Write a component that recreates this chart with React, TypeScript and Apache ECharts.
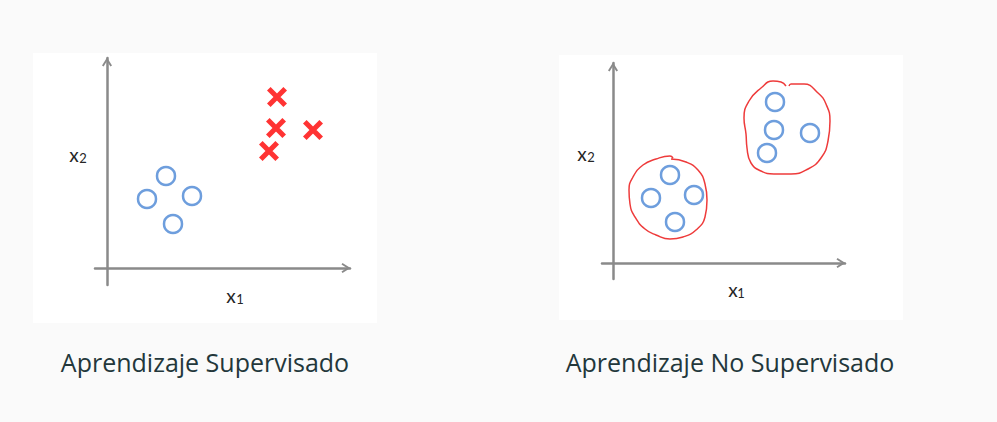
import React, { useEffect, useRef } from "react";
import * as echarts from "echarts";

// ---- Data (panel units: origin at axis crossing) ----
const supervisedCircles = [
  [5.9, 9.2],
  [4.0, 6.9],
  [8.5, 7.2],
  [6.6, 4.4],
];
const supervisedCrosses = [
  [17.0, 17.1],
  [16.9, 14.0],
  [20.6, 13.8],
  [16.2, 11.7],
];
const unsupLowerCircles = [
  [5.7, 8.8],
  [3.8, 6.5],
  [8.1, 6.8],
  [6.2, 4.1],
];
const unsupUpperCircles = [
  [16.2, 16.1],
  [16.1, 13.3],
  [19.7, 13.0],
  [15.4, 11.0],
];
const lowerLoop = [
  [5.8, 10.4], [7.3, 10.1], [8.5, 9.3], [9.2, 7.9], [9.4, 6.3], [9.2, 4.6],
  [8.3, 3.3], [7.0, 2.6], [5.7, 2.4], [4.3, 2.8], [3.2, 3.4], [2.2, 4.6],
  [1.7, 5.9], [1.6, 7.3], [2.0, 8.6], [3.0, 9.8], [4.3, 10.4], [5.7, 10.7],
  [6.0, 10.5],
];
const upperLoop = [
  [17.6, 17.7], [17.8, 17.9], [19.1, 17.9], [20.5, 17.0], [21.3, 15.9],
  [21.7, 14.2], [21.5, 12.2], [20.8, 10.5], [19.5, 9.4], [17.8, 8.9],
  [16.1, 8.9], [14.8, 9.2], [13.8, 10.0], [13.4, 11.5], [13.3, 12.9],
  [13.1, 14.5], [13.6, 16.2], [14.8, 17.5], [16.0, 18.2], [16.8, 18.1],
  [17.3, 17.7],
];
const captions = ["Aprendizaje Supervisado", "Aprendizaje No Supervisado"];
const axisNames = ["x", "1", "2"];

const BLUE = "#4A86D4";
const RED = "#FF0000";
const LOOP = "#EE3B3B";
const AXIS = "#8A8A8A";
const TEXT = "#23373B";

const arrowPath = "path://M5,0 L10,8 L8.4,9 L5,3.6 L1.6,9 L0,8 Z";
const crossPath =
  "path://M0,1.8 L1.8,0 L10,8.2 L8.2,10 Z M8.2,0 L10,1.8 L1.8,10 L0,8.2 Z";

function axisPair(min: number, max: number) {
  return {
    type: "value",
    min,
    max,
    axisLine: {
      show: true,
      onZero: true,
      lineStyle: { color: AXIS, width: 2.5 },
      symbol: ["none", arrowPath],
      symbolSize: [11, 9],
      symbolOffset: [0, -4],
    },
    axisTick: { show: false },
    axisLabel: { show: false },
    splitLine: { show: false },
  };
}

export default function App() {
  const ref = useRef<HTMLDivElement>(null);
  useEffect(() => {
    if (!ref.current) return;
    const chart = echarts.init(ref.current, null, { renderer: "svg" });
    const labelFont = "Lato";
    const lbl = (x: number, y: number, t: string, size: number) => ({
      type: "text",
      x,
      y,
      style: {
        text: t,
        fill: "#262626",
        font: `${size}px ${labelFont}`,
        align: "center",
        verticalAlign: "middle",
      },
    });
    const cap = (x: number, t: string) => ({
      type: "text",
      x,
      y: 362,
      style: {
        text: t,
        fill: TEXT,
        font: "400 25px 'Open Sans'",
        align: "center",
        verticalAlign: "middle",
      },
    });
    chart.setOption({
      animation: false,
      backgroundColor: "#FAFAFA",
      graphic: {
        elements: [
          { type: "rect", z: -100, shape: { x: 33, y: 53, width: 344, height: 270 }, style: { fill: "#FFFFFF" } },
          { type: "rect", z: -100, shape: { x: 559, y: 55, width: 344, height: 265 }, style: { fill: "#FFFFFF" } },
          lbl(74, 154, axisNames[0], 19),
          lbl(83, 158, axisNames[2], 13),
          lbl(231, 295, axisNames[0], 19),
          lbl(240, 299, axisNames[1], 13),
          lbl(582, 153, axisNames[0], 19),
          lbl(591, 157, axisNames[2], 13),
          lbl(733, 289, axisNames[0], 19),
          lbl(741, 293, axisNames[1], 13),
          cap(205, captions[0]),
          cap(730, captions[1]),
        ],
      },
      grid: [
        { left: 95, top: 58, width: 255, height: 227 },
        { left: 602, top: 63, width: 243, height: 216 },
      ],
      xAxis: [
        { ...axisPair(-1.2, 24.3), gridIndex: 0 },
        { ...axisPair(-1.1, 23.2), gridIndex: 1 },
      ],
      yAxis: [
        { ...axisPair(-1.7, 21.0), gridIndex: 0 },
        { ...axisPair(-1.6, 20.0), gridIndex: 1 },
      ],
      series: [
        {
          type: "scatter",
          xAxisIndex: 0,
          yAxisIndex: 0,
          data: supervisedCircles,
          symbol: "circle",
          symbolSize: 18,
          itemStyle: { color: "rgba(255,255,255,0)", borderColor: BLUE, borderWidth: 2.5 },
          silent: true,
        },
        {
          type: "scatter",
          xAxisIndex: 0,
          yAxisIndex: 0,
          data: supervisedCrosses,
          symbol: crossPath,
          symbolSize: 20,
          itemStyle: { color: RED },
          silent: true,
        },
        {
          type: "line",
          xAxisIndex: 1,
          yAxisIndex: 1,
          data: lowerLoop,
          smooth: 0.5,
          showSymbol: false,
          lineStyle: { color: LOOP, width: 1.5 },
          silent: true,
        },
        {
          type: "line",
          xAxisIndex: 1,
          yAxisIndex: 1,
          data: upperLoop,
          smooth: 0.5,
          showSymbol: false,
          lineStyle: { color: LOOP, width: 1.5 },
          silent: true,
        },
        {
          type: "scatter",
          xAxisIndex: 1,
          yAxisIndex: 1,
          data: [...unsupLowerCircles, ...unsupUpperCircles],
          symbol: "circle",
          symbolSize: 18,
          itemStyle: { color: "rgba(255,255,255,0)", borderColor: BLUE, borderWidth: 2.5 },
          silent: true,
        },
      ],
    });
    return () => chart.dispose();
  }, []);
  return (
    <div
      ref={ref}
      style={{ position: "absolute", left: 0, top: 0, width: 997, height: 422 }}
    />
  );
}
